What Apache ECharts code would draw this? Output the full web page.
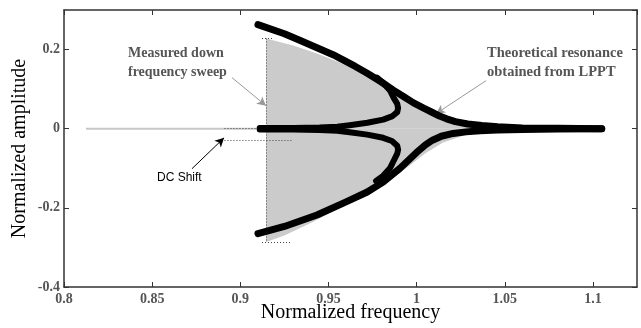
<!DOCTYPE html>
<html><head><meta charset="utf-8">
<script src="https://cdn.jsdelivr.net/npm/echarts@6/dist/echarts.min.js"></script>
<style>html,body{margin:0;padding:0;background:#fff}#c{width:641px;height:328px}</style>
</head><body><div id="c"></div>
<script>
// Measured sweep: low-frequency gray baseline
const baseX = [0.8125, 0.911];
const baseY = [0, 0];
// Measured sweep envelope (gray fill)
const envUpX = [0.9146, 0.93, 0.9435, 0.955, 0.965, 0.975, 0.985, 0.995, 1.005, 1.015, 1.03, 1.05, 1.07];
const envUpY = [0.228, 0.210, 0.19, 0.17, 0.15, 0.125, 0.095, 0.068, 0.045, 0.025, 0.01, 0.003, 0.001];
const envLoX = [0.9146, 0.925, 0.94, 0.955, 0.97, 0.985, 0.995, 1.005, 1.015, 1.03, 1.05, 1.07];
const envLoY = [-0.286, -0.27, -0.238, -0.203, -0.168, -0.128, -0.097, -0.062, -0.035, -0.012, -0.004, -0.001];
// Theoretical resonance (LPPT) - outer stable branches
const upX = [0.910, 0.925, 0.934, 0.9526, 0.965, 0.972, 0.98, 0.987, 0.993, 0.998, 1.004, 1.009, 1.013, 1.017, 1.022, 1.029, 1.037, 1.046, 1.06, 1.08, 1.105];
const upY = [0.263, 0.240, 0.223, 0.187, 0.158, 0.140, 0.118, 0.097, 0.080, 0.066, 0.052, 0.041, 0.032, 0.025, 0.018, 0.012, 0.008, 0.005, 0.002, 0.001, 0.0];
const loX = [0.910, 0.925, 0.9435, 0.96, 0.972, 0.981, 0.9906, 1.0, 1.005, 1.009, 1.014, 1.0207, 1.028, 1.036, 1.046, 1.06, 1.08, 1.105];
const loY = [-0.265, -0.247, -0.218, -0.185, -0.160, -0.135, -0.100, -0.060, -0.041, -0.029, -0.019, -0.012, -0.008, -0.005, -0.003, -0.002, -0.001, 0.0];
// Inner branches
const inUpX = [0.911, 0.93, 0.945, 0.955, 0.962, 0.972, 0.981, 0.986, 0.989, 0.9895, 0.989, 0.987, 0.985, 0.981, 0.9775];
const inUpY = [0.002, 0.002, 0.003, 0.005, 0.009, 0.015, 0.023, 0.031, 0.042, 0.052, 0.063, 0.078, 0.096, 0.116, 0.129];
const inLoX = [0.911, 0.93, 0.945, 0.955, 0.962, 0.972, 0.981, 0.986, 0.989, 0.9895, 0.989, 0.987, 0.985, 0.981, 0.977];
const inLoY = [-0.002, -0.002, -0.003, -0.005, -0.009, -0.015, -0.023, -0.031, -0.043, -0.053, -0.063, -0.081, -0.099, -0.119, -0.132];
// Dotted guide lines (measurement box and DC shift)
const guides = [
  [[0.9146, 0.228], [0.9146, -0.286]],
  [[0.9123, 0.228], [0.9186, 0.228]],
  [[0.9123, -0.286], [0.929, -0.286]],
  [[0.891, 0], [0.911, 0]],
  [[0.891, -0.029], [0.929, -0.029]]
];
// Annotation arrows [from, to]
const arrowSweep = [[0.8953, 0.129], [0.9146, 0.058]];
const arrowTheory = [[1.0394, 0.1215], [1.011, 0.038]];
const arrowDC = [[0.8726, -0.101], [0.8908, -0.023]];

const zip = (a, b) => a.map((v, i) => [v, b[i]]);
const chart = echarts.init(document.getElementById('c'), null, {renderer: 'canvas'});
const serif = 'Liberation Serif, Times New Roman, serif';
const tickLbl = {fontFamily: serif, fontSize: 14, fontWeight: 'bold', color: '#555', showMaxLabel: false};
const axLine = {show: true, onZero: false, lineStyle: {color: '#333', width: 1.5}};
const tick = {inside: true, length: 5, lineStyle: {color: '#333'}};
const black = {color: '#000', width: 7, cap: 'round', join: 'round'};

chart.setOption({
  animation: false,
  grid: {left: 64, right: 4, top: 10, bottom: 41, containLabel: false, outerBoundsMode: 'none'},
  xAxis: [
    {type: 'value', min: 0.8, max: 1.125, interval: 0.05, position: 'bottom',
     axisLine: axLine, axisTick: tick,
     splitLine: {show: false}, axisLabel: Object.assign({margin: 5}, tickLbl),
     name: 'Normalized frequency', nameLocation: 'middle', nameGap: 16, nameMoveOverlap: false,
     nameTextStyle: {fontFamily: serif, fontSize: 20, color: '#000'}},
    {type: 'value', min: 0.8, max: 1.125, interval: 0.05, position: 'top',
     axisLine: axLine, axisTick: tick,
     splitLine: {show: false}, axisLabel: {show: false}}
  ],
  yAxis: [
    {type: 'value', min: -0.4, max: 0.3, interval: 0.2, position: 'left',
     axisLine: axLine, axisTick: tick,
     splitLine: {show: false}, axisLabel: Object.assign({margin: 4}, tickLbl),
     name: 'Normalized amplitude', nameLocation: 'middle', nameGap: 34, nameMoveOverlap: false,
     nameTextStyle: {fontFamily: serif, fontSize: 20, color: '#000'}},
    {type: 'value', min: -0.4, max: 0.3, interval: 0.2, position: 'right',
     axisLine: axLine, axisTick: tick,
     splitLine: {show: false}, axisLabel: {show: false}}
  ],
  series: [
    {type: 'line', data: zip(envUpX, envUpY), showSymbol: false, lineStyle: {width: 0},
     areaStyle: {color: '#cbcbcb', opacity: 1}, z: 1},
    {type: 'line', data: zip(envLoX, envLoY), showSymbol: false, lineStyle: {width: 0},
     areaStyle: {color: '#cbcbcb', opacity: 1}, z: 1},
    {type: 'line', data: zip(baseX, baseY), showSymbol: false,
     lineStyle: {color: '#c8c8c8', width: 2}, z: 2},
    {type: 'line', data: [], z: 3, silent: true,
     markLine: {silent: true, symbol: ['none', 'none'], label: {show: false},
       lineStyle: {color: '#444', width: 1, type: [1, 2]},
       data: guides.map(g => [{coord: g[0]}, {coord: g[1]}])}},
    {type: 'line', data: [], z: 6, silent: true,
     markLine: {silent: true, symbol: ['none', 'arrow'], symbolSize: [7, 9], label: {show: false},
       lineStyle: {color: '#999', width: 1, type: 'solid'},
       data: [arrowSweep, arrowTheory].map(g => [{coord: g[0]}, {coord: g[1]}])}},
    {type: 'line', data: [], z: 6, silent: true,
     markLine: {silent: true, symbol: ['none', 'arrow'], symbolSize: [7, 9], label: {show: false},
       lineStyle: {color: '#000', width: 1, type: 'solid'},
       data: [[{coord: arrowDC[0]}, {coord: arrowDC[1]}]]}},
    {type: 'line', data: zip(upX, upY), showSymbol: false, lineStyle: black, z: 5},
    {type: 'line', data: zip(loX, loY), showSymbol: false, lineStyle: black, z: 5},
    {type: 'line', data: zip(inUpX, inUpY), showSymbol: false, lineStyle: Object.assign({}, black, {width: 6}), z: 5},
    {type: 'line', data: zip(inLoX, inLoY), showSymbol: false, lineStyle: Object.assign({}, black, {width: 6}), z: 5}
  ],
  graphic: [
    {type: 'text', left: 128, top: 44, z: 10, style: {text: 'Measured down\nfrequency sweep', fontFamily: serif, fontSize: 14, fontWeight: 'bold', fill: '#555', align: 'center', lineHeight: 19}},
    {type: 'text', left: 487, top: 44, z: 10, style: {text: 'Theoretical resonance\nobtained from LPPT', fontFamily: serif, fontSize: 14.5, fontWeight: 'bold', fill: '#555', align: 'center', lineHeight: 19}},
    {type: 'text', left: 157, top: 172, z: 10, style: {text: 'DC Shift', fontFamily: 'Liberation Sans, Arial, sans-serif', fontSize: 12, fill: '#000'}}
  ]
});
</script></body></html>
